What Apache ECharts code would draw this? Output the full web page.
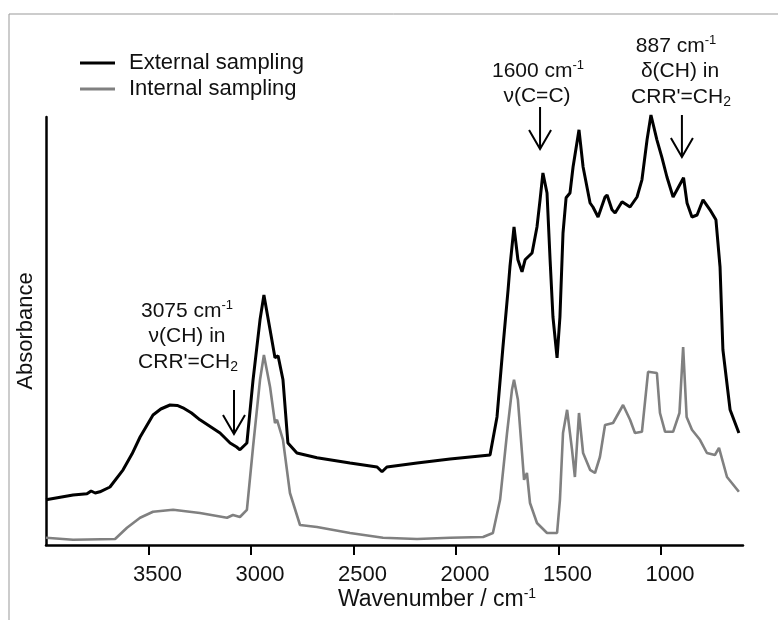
<!DOCTYPE html>
<html>
<head>
<meta charset="utf-8">
<script src="https://cdn.jsdelivr.net/npm/echarts@6/dist/echarts.min.js"></script>
<style>
html,body{margin:0;padding:0;background:#fff;}
#c{width:778px;height:620px;}
</style>
</head>
<body>
<div id="c"></div>
<script>
// ---- Data (absorbance in arbitrary units) ----
const extWavenumber = [4000,3868,3800,3780,3760,3737,3688,3624,3580,3541,3478,3440,3395,3360,3332,3290,3249,3151,3102,3070,3054,3020,2990,2956,2937,2907,2883,2868,2844,2820,2776,2678,2517,2385,2361,2337,2190,2029,1834,1800,1771,1746,1737,1717,1698,1678,1663,1629,1605,1590,1576,1556,1541,1527,1507,1493,1478,1463,1454,1444,1429,1400,1380,1346,1332,1307,1273,1263,1239,1224,1190,1151,1117,1093,1068,1049,1020,995,971,941,890,873,849,824,795,761,732,712,698,663,620];
const extAbsorbance = [0.113,0.125,0.128,0.135,0.130,0.133,0.145,0.188,0.228,0.270,0.325,0.340,0.350,0.349,0.343,0.330,0.313,0.280,0.255,0.245,0.238,0.255,0.413,0.563,0.625,0.538,0.468,0.473,0.413,0.255,0.230,0.218,0.205,0.195,0.183,0.195,0.205,0.215,0.225,0.320,0.495,0.638,0.695,0.795,0.713,0.683,0.713,0.730,0.795,0.863,0.930,0.880,0.713,0.570,0.468,0.570,0.780,0.868,0.863,0.880,0.945,1.038,0.945,0.855,0.845,0.820,0.870,0.875,0.838,0.830,0.858,0.845,0.870,0.913,1.013,1.075,1.013,0.968,0.920,0.870,0.918,0.855,0.820,0.825,0.863,0.838,0.813,0.695,0.488,0.338,0.280];

const intWavenumber = [4000,3868,3663,3605,3541,3478,3380,3249,3117,3088,3054,3020,2990,2956,2937,2907,2883,2873,2844,2810,2761,2678,2517,2356,2190,2029,1868,1820,1785,1751,1727,1717,1698,1678,1668,1654,1639,1605,1556,1507,1493,1478,1458,1434,1420,1400,1380,1346,1322,1298,1273,1234,1185,1151,1127,1093,1063,1020,1005,980,941,910,892,875,849,810,776,737,717,678,620];
const intAbsorbance = [0.018,0.013,0.015,0.043,0.068,0.083,0.088,0.080,0.068,0.075,0.070,0.088,0.245,0.413,0.475,0.395,0.305,0.313,0.263,0.130,0.050,0.045,0.030,0.018,0.015,0.018,0.020,0.030,0.113,0.280,0.388,0.413,0.363,0.230,0.163,0.180,0.105,0.055,0.030,0.030,0.113,0.280,0.338,0.238,0.170,0.330,0.230,0.188,0.180,0.220,0.300,0.305,0.350,0.313,0.280,0.283,0.433,0.430,0.330,0.283,0.283,0.330,0.495,0.320,0.288,0.263,0.230,0.225,0.243,0.170,0.133];

const tickLabels = [3500, 3000, 2500, 2000, 1500, 1000];
const seriesNames = ['External sampling', 'Internal sampling'];
const annotWavenumbers = [3083, 1590, 898];

const FONT = '"Liberation Sans", Arial, Helvetica, sans-serif';

const chart = echarts.init(document.getElementById('c'), null, {renderer: 'canvas'});

const extData = extWavenumber.map((w, i) => [w, extAbsorbance[i]]);
const intData = intWavenumber.map((w, i) => [w, intAbsorbance[i]]);

const option = {
  backgroundColor: '#fff',
  animation: false,
  grid: {left: 46, right: 35, top: 117, bottom: 75, containLabel: false},
  legend: {
    orient: 'vertical',
    left: 80,
    top: 50,
    padding: 0,
    itemWidth: 35,
    itemHeight: 3,
    itemGap: 0,
    icon: 'rect',
    data: seriesNames,
    textStyle: {fontFamily: FONT, fontSize: 22, color: '#111', lineHeight: 26, padding: [0, 0, 0, 9]}
  },
  xAxis: {
    type: 'value',
    min: 600,
    max: 4000,
    inverse: true,
    splitLine: {show: false},
    axisLine: {lineStyle: {color: '#000', width: 2.5}},
    axisTick: {show: true, length: 10, lineStyle: {color: '#000', width: 2}, customValues: tickLabels},
    axisLabel: {customValues: tickLabels, formatter: v => String(v), fontFamily: FONT, fontSize: 22, color: '#111', margin: 19, padding: [0, 0, 0, 18]},
    name: ''
  },
  yAxis: {
    type: 'value',
    min: 0,
    max: 1.07,
    splitLine: {show: false},
    axisLine: {show: true, lineStyle: {color: '#000', width: 2.5}},
    axisTick: {show: false},
    axisLabel: {show: false},
    name: 'Absorbance',
    nameLocation: 'middle',
    nameGap: 9,
    nameTextStyle: {fontFamily: FONT, fontSize: 22, color: '#111'}
  },
  series: [
    {
      name: seriesNames[0], type: 'line', data: extData, showSymbol: false, symbol: 'none',
      clip: false, lineStyle: {color: '#000', width: 3}, itemStyle: {color: '#000'}, z: 3
    },
    {
      name: seriesNames[1], type: 'line', data: intData, showSymbol: false, symbol: 'none',
      clip: false, lineStyle: {color: '#808080', width: 2.6}, itemStyle: {color: '#808080'}, z: 2
    }
  ]
};
chart.setOption(option);

// ---- Annotations ----
function richFor(size) {
  return {
    n: {fontFamily: FONT, fontSize: size, color: '#111', lineHeight: size + 3},
    s: {fontFamily: FONT, fontSize: Math.round(size * 0.62), color: '#111', verticalAlign: 'top', lineHeight: size + 3, padding: [0, 0, 9, 0]},
    b: {fontFamily: FONT, fontSize: Math.round(size * 0.67), color: '#111', verticalAlign: 'bottom', lineHeight: size + 3, padding: [7, 0, 0, 0]}
  };
}
function txt(x, y, str, size) {
  return {type: 'text', x: x, y: y, z: 10,
    style: {text: str, rich: richFor(size || 21), align: 'center', verticalAlign: 'middle', fill: '#111'}};
}
function arrow(x, y1, y2) {
  return [
    {type: 'line', z: 10, shape: {x1: x, y1: y1, x2: x, y2: y2}, style: {stroke: '#000', lineWidth: 2}},
    {type: 'polyline', z: 10, shape: {points: [[x - 11, y2 - 19], [x, y2], [x + 11, y2 - 19]]}, style: {stroke: '#000', lineWidth: 2, fill: null}}
  ];
}
const ax = annotWavenumbers.map(w => chart.convertToPixel({xAxisIndex: 0}, w));

const graphics = [
  {type: 'polyline', z: 0, shape: {points: [[9, 620], [9, 14], [778, 14]]}, style: {stroke: '#999', lineWidth: 1, fill: null}},
  txt(187, 311, '{n|3075 cm}{s|-1}'),
  txt(187, 336, '{n|ν(CH) in}'),
  txt(188, 362, '{n|CRR\'=CH}{b|2}'),
  txt(538, 71, '{n|1600 cm}{s|-1}'),
  txt(537, 96, '{n|ν(C=C)}'),
  txt(676, 46, '{n|887 cm}{s|-1}'),
  txt(680, 71, '{n|δ(CH) in}'),
  txt(681, 97, '{n|CRR\'=CH}{b|2}'),
  txt(437, 600, '{n|Wavenumber / cm}{s|-1}', 23)
].concat(arrow(ax[0], 390, 434), arrow(ax[1], 107, 149), arrow(ax[2], 115, 157));

chart.setOption({graphic: graphics});
</script>
</body>
</html>
